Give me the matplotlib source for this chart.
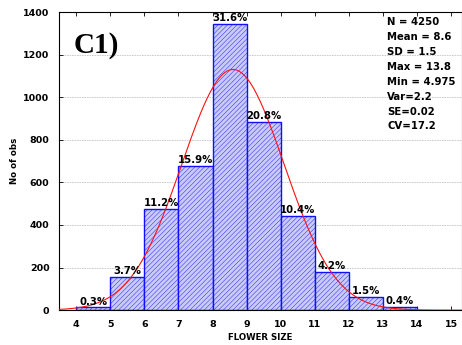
import numpy as np
import matplotlib
matplotlib.use("Agg")
import matplotlib.pyplot as plt

# Flower size histogram (bins of width 1)
bin_left = [4, 5, 6, 7, 8, 9, 10, 11, 12, 13]
percent = [0.3, 3.7, 11.2, 15.9, 31.6, 20.8, 10.4, 4.2, 1.5, 0.4]
n_obs = 4250
mean_size = 8.6
sd_size = 1.5
stats_lines = ["N = 4250", "Mean = 8.6", "SD = 1.5", "Max = 13.8",
               "Min = 4.975", "Var=2.2", "SE=0.02", "CV=17.2"]
x_ticks = list(range(4, 16))
y_ticks = list(range(0, 1401, 200))

counts = [p / 100 * n_obs for p in percent]

plt.rcParams['hatch.color'] = '#9898f2'
plt.rcParams['hatch.linewidth'] = 0.3

fig = plt.figure(figsize=(4.62, 3.45), dpi=100)
ax = fig.add_axes([0.128, 0.101, 0.872, 0.864])

ax.bar(bin_left, counts, width=1, align='edge', facecolor='#cacaf8',
       edgecolor='#1010ff', linewidth=1.0, hatch='///////', zorder=2)

# fitted normal curve scaled to counts
xs = np.linspace(3.5, 15.5, 400)
ys = n_obs / (sd_size * np.sqrt(2 * np.pi)) * np.exp(-0.5 * ((xs - mean_size) / sd_size) ** 2)
ax.plot(xs, ys, color='#ff1010', linewidth=0.8, zorder=3)

for x, c, p in zip(bin_left, counts, percent):
    ax.text(x + 0.5, c + 4, f"{p}%", ha='center', va='bottom',
            fontsize=7.3, fontweight='bold', zorder=4)

ax.set_xlim(3.5, 15.32)
ax.set_ylim(0, 1400)
ax.set_xticks(x_ticks)
ax.set_yticks(y_ticks)
ax.tick_params(axis='both', direction='in', labelsize=6.8, length=3, width=0.6,
               top=True, pad=7)
for lab in ax.get_xticklabels() + ax.get_yticklabels():
    lab.set_fontweight('bold')
ax.yaxis.grid(True, color='#c4c4c4', linewidth=0.6, linestyle=(0, (2, 1)), zorder=0)
for s in ax.spines.values():
    s.set_linewidth(0.8)

ax.set_xlabel("FLOWER SIZE", fontsize=6.2, fontweight='bold', labelpad=3)
ax.set_ylabel("No of obs", fontsize=6.2, fontweight='bold', labelpad=3)

ax.text(3.93, 1245, "C1)", fontsize=21, fontweight='bold',
        family='Liberation Serif', va='center', ha='left')
ax.text(13.12, 1378, "\n".join(stats_lines), fontsize=7.3, fontweight='bold',
        va='top', ha='left', linespacing=1.62)

fig.savefig("out.png", dpi=100)
